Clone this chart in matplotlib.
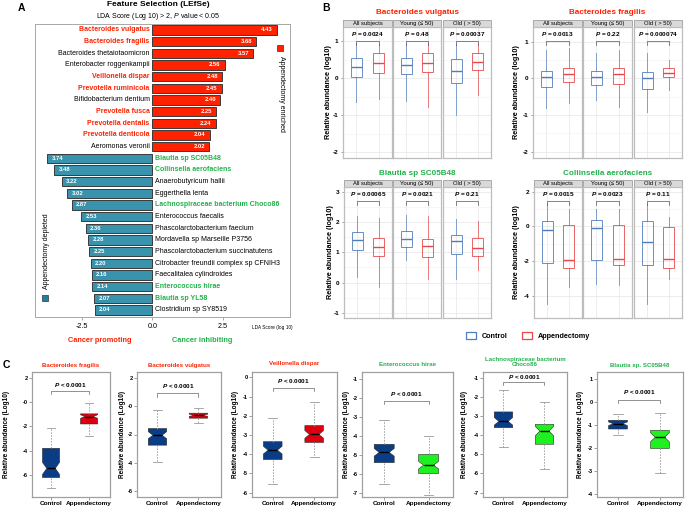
import matplotlib
matplotlib.use("Agg")
import matplotlib.pyplot as plt
from matplotlib.patches import Rectangle, Patch

plt.rcParams['font.family'] = ['Liberation Sans', 'DejaVu Sans']
plt.rcParams['mathtext.fontset'] = 'custom'
plt.rcParams['mathtext.it'] = 'Liberation Sans:italic'
plt.rcParams['mathtext.bf'] = 'Liberation Sans:bold:italic'
plt.rcParams['axes.linewidth'] = 0.7

# ---------------- data ----------------
# panel A, LEfSe
lefse_taxa = ["Bacteroides vulgatus", "Bacteroides fragilis", "Bacteroides thetaiotaomicron",
              "Enterobacter roggenkampii", "Veillonella dispar", "Prevotella ruminicola",
              "Bifidobacterium dentium", "Prevotella fusca", "Prevotella dentalis",
              "Prevotella denticola", "Aeromonas veronii",
              "Blautia sp SC05B48", "Collinsella aerofaciens", "Anaerobutyricum hallii",
              "Eggerthella lenta", "Lachnospiraceae bacterium Choco86", "Enterococcus faecalis",
              "Phascolarctobacterium faecium", "Mordavella sp Marseille P3756",
              "Phascolarctobacterium succinatutens", "Citrobacter freundii complex sp CFNIH3",
              "Faecalitalea cylindroides", "Enterococcus hirae", "Blautia sp YL58",
              "Clostridium sp SY8519"]
lefse_lda = [4.43, 3.68, 3.57, 2.56, 2.48, 2.45, 2.40, 2.25, 2.24, 2.04, 2.02,
             -3.74, -3.48, -3.22, -3.02, -2.87, -2.53, -2.36, -2.28, -2.25, -2.20,
             -2.16, -2.14, -2.07, -2.04]
# p = cancer promoting, i = cancer inhibiting, n = neither
lefse_role = ["p", "p", "n", "n", "p", "p", "n", "p", "p", "p", "n",
              "i", "i", "n", "n", "i", "n", "n", "n", "n", "n", "n", "i", "i", "n"]

# panel B, box stats (low whisker, q1, median, q3, high whisker) for All / Young / Old
strip_labels = ["All subjects", "Young (\u2264 50)", "Old ( > 50)"]
vulgatus_ctrl = [(-0.65, 0.04, 0.29, 0.53, 0.95), (-0.61, 0.12, 0.35, 0.55, 0.91), (-1.00, -0.12, 0.20, 0.51, 0.91)]
vulgatus_app = [(-0.56, 0.13, 0.42, 0.67, 0.91), (-0.79, 0.17, 0.40, 0.69, 0.95), (-0.45, 0.23, 0.44, 0.67, 0.91)]
vulgatus_p = ["0.0024", "0.48", "0.00037"]
fragilis_ctrl = [(-0.82, -0.23, 0.03, 0.21, 0.77), (-0.59, -0.18, 0.05, 0.20, 0.68), (-0.91, -0.30, 0.02, 0.18, 0.68)]
fragilis_app = [(-0.68, -0.09, 0.12, 0.27, 0.82), (-0.77, -0.14, 0.12, 0.27, 0.77), (-0.32, 0.03, 0.14, 0.27, 0.50)]
fragilis_p = ["0.0013", "0.22", "0.000074"]
blautia_ctrl = [(0.19, 1.06, 1.39, 1.67, 2.19), (0.74, 1.17, 1.44, 1.71, 2.24), (0.13, 0.94, 1.36, 1.58, 2.08)]
blautia_app = [(-0.14, 0.86, 1.17, 1.47, 2.13), (0.10, 0.83, 1.19, 1.44, 2.19), (0.40, 0.87, 1.14, 1.47, 2.04)]
blautia_p = ["0.00065", "0.0021", "0.21"]
collinsella_ctrl = [(-4.49, -2.11, -0.23, 0.29, 1.31), (-3.33, -1.93, -0.08, 0.35, 1.02), (-4.49, -2.26, -0.91, 0.31, 1.31)]
collinsella_app = [(-3.50, -2.40, -1.93, 0.06, 1.02), (-3.42, -2.26, -1.91, 0.06, 1.02), (-3.04, -2.40, -1.91, -0.04, 0.54)]
collinsella_p = ["0.0015", "0.0023", "0.11"]

# panel C, notched boxes (low whisker, q1, median, q3, high whisker)
c_taxa = ["Bacteroides fragilis", "Bacteroides vulgatus", "Veillonella dispar",
          "Enterococcus hirae", "Lachnospiraceae bacterium\nChoco86", "Blautia sp. SC05B48"]
c_ctrl = [(-7.03, -6.20, -5.45, -3.80, -2.14), (-3.93, -2.75, -2.05, -1.58, -0.28),
          (-5.57, -4.28, -3.79, -3.35, -2.13), (-6.54, -5.40, -4.86, -4.44, -3.16),
          (-4.61, -3.60, -3.27, -2.78, -1.65), (-1.46, -1.18, -0.95, -0.80, -0.53)]
c_app = [(-2.78, -1.80, -1.19, -0.97, -0.10), (-1.20, -0.85, -0.65, -0.50, -0.10),
         (-4.14, -3.39, -2.97, -2.51, -1.26), (-7.07, -5.97, -5.53, -4.97, -4.00),
         (-5.78, -4.47, -3.78, -3.43, -2.26), (-3.09, -2.03, -1.54, -1.24, -0.48)]
c_ctrl_notch = [0.5, 0.25, 0.2, 0.2, 0.2, 0.08]
c_app_notch = [0.15, 0.08, 0.2, 0.2, 0.25, 0.2]
c_role = ["p", "p", "p", "i", "i", "i"]
c_yticks = [[2, 0, -2, -4, -6], [2, 0, -2, -4, -6], [0, -1, -2, -3, -4, -5, -6],
            [-1, -2, -3, -4, -5, -6, -7], [-1, -2, -3, -4, -5, -6, -7], [1, 0, -1, -2, -3, -4]]
c_yticklabels = [["2", "-0", "-2", "-4", "-6"], ["2", "-0", "-2", "-4", "-6"], None, None, None, None]
c_ylim = [(-7.8, 2.47), (-6.4, 2.4), (-6.23, 0.28), (-7.2, -0.65), (-7.23, -0.69), (-4.15, 1.31)]

# ---------------- style ----------------
RED = "#FF2200"
TEAL = "#3A93AD"
GREEN = "#22B24C"
CTRL_B = "#4F7DBA"
APP_B = "#E8474A"
NAVY = "#0B3D86"
C_RED = "#DD0010"
C_GREEN = "#1FF01F"
role_col = {"p": RED, "i": GREEN, "n": "black"}

W, H = 685, 508
fig = plt.figure(figsize=(W / 100, H / 100), dpi=100)


def px_axes(x0, y0, x1, y1):
    return fig.add_axes([x0 / W, 1 - y1 / H, (x1 - x0) / W, (y1 - y0) / H])


def ftext(x, y, s, **kw):
    fig.text(x / W, 1 - y / H, s, **kw)


# ---------------- panel A ----------------
ax = px_axes(35, 24, 290, 317)
ypos = list(range(len(lefse_lda)))
cols = [RED if v > 0 else TEAL for v in lefse_lda]
ax.barh(ypos, lefse_lda, height=0.78, color=cols, edgecolor="#3A3A3A", linewidth=0.7)
for i, (name, v, r) in enumerate(zip(lefse_taxa, lefse_lda, lefse_role)):
    wt = "normal" if r == "n" else "bold"
    if v > 0:
        ax.text(-0.1, i, name, ha="right", va="center", fontsize=5.0, color=role_col[r], weight=wt)
        ax.text(v - 0.15, i, "%.2f" % v, ha="right", va="center", fontsize=4.2, color="white", weight="bold")
    else:
        ax.text(0.1, i, name, ha="left", va="center", fontsize=5.0, color=role_col[r], weight=wt)
        ax.text(v + 0.15, i, "%.2f" % abs(v), ha="left", va="center", fontsize=4.2, color="white", weight="bold")
ax.set_xlim(-4.17, 4.88)
ax.set_ylim(24.6, -0.51)
ax.set_yticks([])
ax.set_xticks([-2.5, 0.0, 2.5])
ax.set_xticklabels(["-2.5", "0.0", "2.5"], fontsize=5.2)
ax.tick_params(axis="x", length=2, width=0.6, color="#999999", pad=2)
for s in ax.spines.values():
    s.set_color("#A8A8A8")
ax.plot([0.962], [0.918], marker="s", ms=5, color=RED, mec="#333333", mew=0.5, transform=ax.transAxes)
ax.text(0.965, 0.76, "Appendectomy enriched", rotation=270, ha="center", va="center",
        fontsize=5.0, transform=ax.transAxes)
ax.plot([0.04], [0.065], marker="s", ms=5, color="#1F7FA0", mec="#333333", mew=0.5, transform=ax.transAxes)
ax.text(0.045, 0.225, "Appendectomy depleted", rotation=90, ha="center", va="center",
        fontsize=5.0, transform=ax.transAxes)
ftext(272, 327, "LDA Score (log 10)", fontsize=3.4, ha="center", va="center")
ftext(158, 5, "Feature Selection (LEfSe)", fontsize=6.0, weight="bold", ha="center", va="center")
ftext(158, 16, r"LDA Score (Log 10) > 2, $\mathit{P}$ value < 0.05", fontsize=5.0, ha="center", va="center")
ftext(100, 341, "Cancer promoting", fontsize=5.3, weight="bold", color=RED, ha="center", va="center")
ftext(202, 341, "Cancer inhibiting", fontsize=5.3, weight="bold", color=GREEN, ha="center", va="center")
ftext(21, 8, "A", fontsize=7.5, weight="bold", ha="center", va="center")
ftext(326, 8, "B", fontsize=7.5, weight="bold", ha="center", va="center")
ftext(6, 365, "C", fontsize=7.5, weight="bold", ha="center", va="center")


# ---------------- panel B ----------------
def stats_of(s):
    lo, q1, med, q3, hi = s
    return dict(whislo=lo, q1=q1, med=med, q3=q3, whishi=hi, fliers=[])


def facet_group(xs, y_top, y_bot, title, tcol, ctrl, app, pvals, yticks, ylim, ylab_x):
    strip_h = 7
    for k, (x0, x1) in enumerate(xs):
        ax = px_axes(x0, y_top + strip_h, x1, y_bot)
        frac = strip_h / (y_bot - y_top - strip_h)
        ax.add_patch(Rectangle((0, 1), 1, frac, transform=ax.transAxes, facecolor="#D9D9D9",
                               edgecolor="#9E9E9E", lw=0.6, clip_on=False))
        ax.text(0.5, 1 + frac / 2, strip_labels[k], ha="center", va="center", fontsize=4.2,
                transform=ax.transAxes)
        bp = ax.bxp([stats_of(ctrl[k]), stats_of(app[k])], positions=[1, 2], widths=0.5,
                    showfliers=False, showcaps=False, patch_artist=True)
        for j, c in enumerate([CTRL_B, APP_B]):
            bp["boxes"][j].set(facecolor="none", edgecolor=c, lw=0.7, alpha=0.85)
            bp["medians"][j].set(color=c, lw=1.0)
            for w in bp["whiskers"][2 * j:2 * j + 2]:
                w.set(color=c, lw=0.7, alpha=0.7)
        ax.set_xlim(0.4, 2.6)
        ax.set_ylim(*ylim)
        ax.set_yticks(yticks)
        minor = [(a + b) / 2 for a, b in zip(yticks[:-1], yticks[1:])]
        ax.set_yticks(minor, minor=True)
        ax.set_xticks([1, 2])
        ax.grid(True, which="major", color="#E6E6E6", lw=0.5)
        ax.grid(True, which="minor", axis="y", color="#F2F2F2", lw=0.4)
        ax.set_axisbelow(True)
        ax.tick_params(axis="x", length=0, labelbottom=False)
        ax.tick_params(axis="y", which="minor", length=0)
        if k == 0:
            ax.set_yticklabels([str(t) for t in yticks], fontsize=4.6, weight="bold")
            ax.tick_params(axis="y", length=1.5, width=0.5, pad=2, color="#777777")
        else:
            ax.tick_params(axis="y", length=0, labelleft=False)
        for s in ax.spines.values():
            s.set_color("#BDBDBD")
            s.set_linewidth(0.9)
        tr = ax.get_xaxis_transform()
        ax.plot([1, 1, 2, 2], [0.86, 0.895, 0.895, 0.86], transform=tr, color="#555555", lw=0.5)
        ax.text(1.5, 0.945, r"$\mathbf{P}$ = " + pvals[k], transform=tr, ha="center", va="center",
                fontsize=4.6, weight="bold")
    xc = (xs[0][0] + xs[-1][1]) / 2
    ftext(xc, y_top - 7, title, fontsize=5.9, weight="bold", color=tcol, ha="center", va="center")
    ftext(ylab_x, (y_top + strip_h + y_bot) / 2, "Relative abundance (log10)", rotation=90,
          fontsize=5.2, weight="bold", ha="center", va="center")


facet_group([(343, 392), (393, 441), (443, 491)], 20, 158, "Bacteroides vulgatus", RED,
            vulgatus_ctrl, vulgatus_app, vulgatus_p, [-2, -1, 0, 1], (-2.16, 1.38), 329)
facet_group([(533, 582), (583, 632), (634, 682)], 20, 158, "Bacteroides fragilis", RED,
            fragilis_ctrl, fragilis_app, fragilis_p, [-2, -1, 0, 1], (-2.17, 1.4), 517)
facet_group([(344, 392), (393, 441), (443, 491)], 180, 318, "Blautia sp SC05B48", GREEN,
            blautia_ctrl, blautia_app, blautia_p, [-1, 0, 1, 2, 3], (-1.17, 3.15), 330)
facet_group([(534, 582), (583, 632), (634, 682)], 180, 318, "Collinsella aerofaciens", GREEN,
            collinsella_ctrl, collinsella_app, collinsella_p, [-4, -2, 0, 2], (-5.3, 2.27), 517)

fig.legend(handles=[Patch(facecolor="white", edgecolor=CTRL_B, lw=0.9, label="Control"),
                    Patch(facecolor="white", edgecolor=APP_B, lw=0.9, label="Appendectomy")],
           loc="center", bbox_to_anchor=(528 / W, 1 - 336 / H), ncol=2, frameon=False,
           prop={"weight": "bold", "size": 5.2}, handlelength=1.4, handleheight=1.1,
           columnspacing=2.0, handletextpad=0.8)

# ---------------- panel C ----------------
c_axes = [(32, 110), (137, 221), (252, 337), (362, 453), (483, 567), (597, 683)]
c_ylab_x = [7, 122, 235, 347, 465, 581]
c_brk = [(0.895, 0.847, 0.823), (0.888, 0.832, 0.80), (0.93, 0.87, 0.846),
         (0.82, 0.77, 0.745), (0.96, 0.92, 0.895), (0.84, 0.78, 0.755)]
c_title_y = [365, 365, 364, 364, 364, 365]

for k in range(6):
    x0, x1 = c_axes[k]
    ax = px_axes(x0, 372, x1, 497)
    app_col = C_RED if c_role[k] == "p" else C_GREEN
    st = []
    for s, n in ((c_ctrl[k], c_ctrl_notch[k]), (c_app[k], c_app_notch[k])):
        d = stats_of(s)
        d["cilo"] = d["med"] - n
        d["cihi"] = d["med"] + n
        st.append(d)
    bp = ax.bxp(st, positions=[1, 2], widths=0.45, shownotches=True, showfliers=False,
                patch_artist=True, capwidths=0.22)
    for j, c in enumerate([NAVY, app_col]):
        bp["boxes"][j].set(facecolor=c, edgecolor="#2A2A2A", lw=0.4)
        bp["medians"][j].set(color="black", lw=1.0)
    for w in bp["whiskers"]:
        w.set(color="#9A9A9A", lw=0.6, linestyle=(0, (2, 1.5)))
    for c in bp["caps"]:
        c.set(color="#9A9A9A", lw=0.6)
    ax.set_xlim(0.5, 2.55)
    ax.set_ylim(*c_ylim[k])
    ax.set_yticks(c_yticks[k])
    labs = c_yticklabels[k] if c_yticklabels[k] else [str(t) for t in c_yticks[k]]
    ax.set_yticklabels(labs, fontsize=4.1, weight="bold")
    ax.set_xticks([1, 2])
    ax.set_xticklabels(["Control", "Appendectomy"], fontsize=4.6, weight="bold")
    ax.tick_params(length=2, width=0.5, pad=1.2, color="#777777")
    for s in ax.spines.values():
        s.set_color("#A0A0A0")
        s.set_linewidth(0.9)
    tr = ax.get_xaxis_transform()
    tt, ln, lo = c_brk[k]
    ax.plot([1, 1, 2, 2], [lo, ln, ln, lo], transform=tr, color="#666666", lw=0.5)
    ax.text(1.5, tt, r"$\mathbf{P}$ < 0.0001", transform=tr, ha="center", va="center",
            fontsize=4.6, weight="bold")
    tcol = RED if c_role[k] == "p" else GREEN
    ty = c_title_y[k] if k != 4 else 362
    ftext((x0 + x1) / 2, ty, c_taxa[k], fontsize=4.4, weight="bold", color=tcol,
          ha="center", va="center", linespacing=1.1)
    ftext(c_ylab_x[k], 434, "Relative abundance (Log10)", rotation=90, fontsize=4.7,
          weight="bold", ha="center", va="center")

fig.savefig("out.png", dpi=100)
